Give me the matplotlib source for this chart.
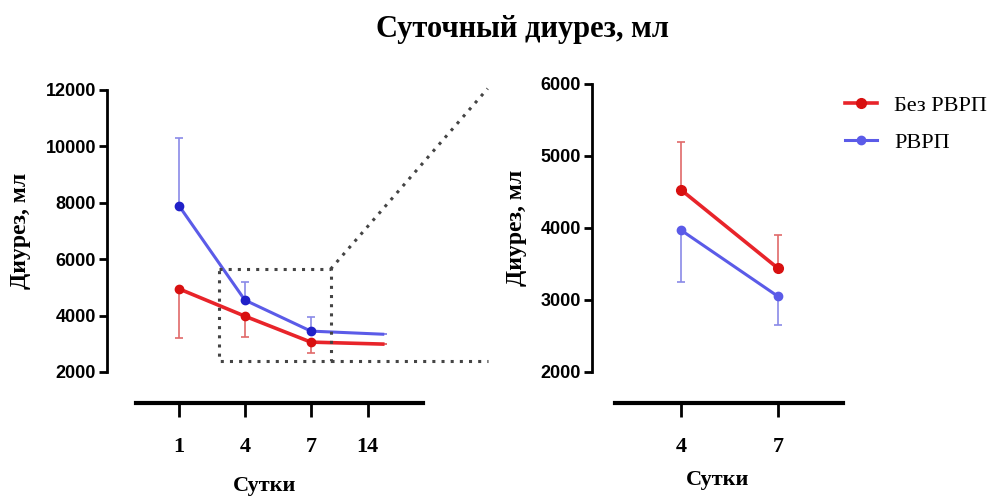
import matplotlib.pyplot as plt
import numpy as np

# ---- data ----
days_left = ["1", "4", "7", "14"]
tick_pos_left = [0, 1, 2, 2.86]
x_left = [0, 1, 2, 3.09]
blue_left = [7900, 4550, 3450, 3340]
blue_left_up = [2400, 650, 500, 0]
red_left = [4950, 3980, 3060, 2990]
red_left_down = [1750, 730, 380, 0]

days_right = ["4", "7"]
x_right = [0, 1]
red_right = [4530, 3440]
red_right_up = [660, 460]
blue_right = [3970, 3050]
blue_right_down = [720, 400]

RED = "#e8242a"
RED_ERR = "#e06a6a"
BLUE = "#5b5be8"
BLUE_ERR = "#8a8ae8"

W, H = 1000, 497
fig = plt.figure(figsize=(10, 4.97), dpi=100)

def frac(x0, x1, ytop, ybot):
    return [x0 / W, (H - ybot) / H, (x1 - x0) / W, (ybot - ytop) / H]

serif = "Liberation Serif"
sans = "Liberation Sans"


def style_axes(ax, xbounds, ybounds, yticks):
    for s in ["top", "right"]:
        ax.spines[s].set_visible(False)
    ax.spines["left"].set_linewidth(2)
    ax.spines["left"].set_bounds(*ybounds)
    ax.spines["bottom"].set_position(("outward", 22.5))
    ax.spines["bottom"].set_linewidth(3)
    ax.spines["bottom"].set_bounds(*xbounds)
    ax.set_yticks(yticks)
    ax.tick_params(axis="y", length=6, width=2, pad=2)
    ax.tick_params(axis="x", length=10, width=2, pad=14)
    for lab in ax.get_yticklabels():
        lab.set_fontfamily(sans)
        lab.set_fontweight("bold")
        lab.set_fontsize(13)
    for lab in ax.get_xticklabels():
        lab.set_fontfamily(serif)
        lab.set_fontweight("bold")
        lab.set_fontsize(16)


# ---- left panel ----
ax1 = fig.add_axes(frac(107, 423, 90, 372))
ax1.set_xlim(-1.09, 3.70)
ax1.set_ylim(2000, 12000)

ax1.errorbar(x_left, blue_left, yerr=[np.zeros(4), blue_left_up], fmt="none",
             ecolor=BLUE_ERR, elinewidth=1.2, capsize=3, capthick=1.2)
ax1.errorbar(x_left, red_left, yerr=[red_left_down, np.zeros(4)], fmt="none",
             ecolor=RED_ERR, elinewidth=1.2, capsize=3, capthick=1.2)
ax1.plot(x_left, blue_left, color=BLUE, lw=2.2, marker="o", ms=6,
         mfc="#2020c8", mec="#2020c8", markevery=[0, 1, 2])
ax1.plot(x_left, red_left, color=RED, lw=2.6, marker="o", ms=6,
         mfc="#d81010", mec="#d81010", markevery=[0, 1, 2])

# zoom box
dot = dict(color="#444444", lw=2.2, ls=(0, (1, 2.0)), clip_on=False)
ax1.plot([0.61, 2.30, 2.30, 0.61, 0.61], [5650, 5650, 2390, 2390, 5650], **dot)
ax1.plot([2.30, 4.68], [2390, 2390], **dot)
ax1.plot([2.30, 4.68], [5650, 12050], **dot)

ax1.set_xticks(tick_pos_left)
ax1.set_xticklabels(days_left)
style_axes(ax1, (-0.65, 3.70), (2000, 12000), [2000, 4000, 6000, 8000, 10000, 12000])
ax1.set_ylabel("Диурез, мл", family=serif, fontweight="bold", fontsize=17, labelpad=10)
ax1.set_xlabel("Сутки", family=serif, fontweight="bold", fontsize=16, labelpad=14)

# ---- right panel ----
ax2 = fig.add_axes(frac(592, 843, 84, 372))
ax2.set_xlim(-0.918, 1.67)
ax2.set_ylim(2000, 6000)

ax2.errorbar(x_right, red_right, yerr=[np.zeros(2), red_right_up], fmt="none",
             ecolor=RED_ERR, elinewidth=1.2, capsize=3, capthick=1.2)
ax2.errorbar(x_right, blue_right, yerr=[blue_right_down, np.zeros(2)], fmt="none",
             ecolor=BLUE_ERR, elinewidth=1.2, capsize=3, capthick=1.2)
ax2.plot(x_right, red_right, color=RED, lw=2.6, marker="o", ms=7,
         mfc="#d81010", mec="#d81010", label="Без РВРП")
ax2.plot(x_right, blue_right, color=BLUE, lw=2.2, marker="o", ms=6,
         mfc=BLUE, mec=BLUE, label="РВРП")

ax2.set_xticks(x_right)
ax2.set_xticklabels(days_right)
style_axes(ax2, (-0.68, 1.67), (2000, 6000), [2000, 3000, 4000, 5000, 6000])
ax2.set_ylabel("Диурез, мл", family=serif, fontweight="bold", fontsize=17, labelpad=10)
ax2.set_xlabel("Сутки", family=serif, fontweight="bold", fontsize=16, labelpad=10)

leg = ax2.legend(loc="upper left", bbox_to_anchor=(0.93, 1.03), frameon=False,
                 prop={"family": serif, "size": 16}, handlelength=1.4,
                 labelspacing=0.75, handletextpad=0.8)

fig.text(0.522, 0.94, "Суточный диурез, мл", ha="center", va="center",
         family=serif, fontweight="bold", fontsize=22)

plt.savefig("out.png", dpi=100)
